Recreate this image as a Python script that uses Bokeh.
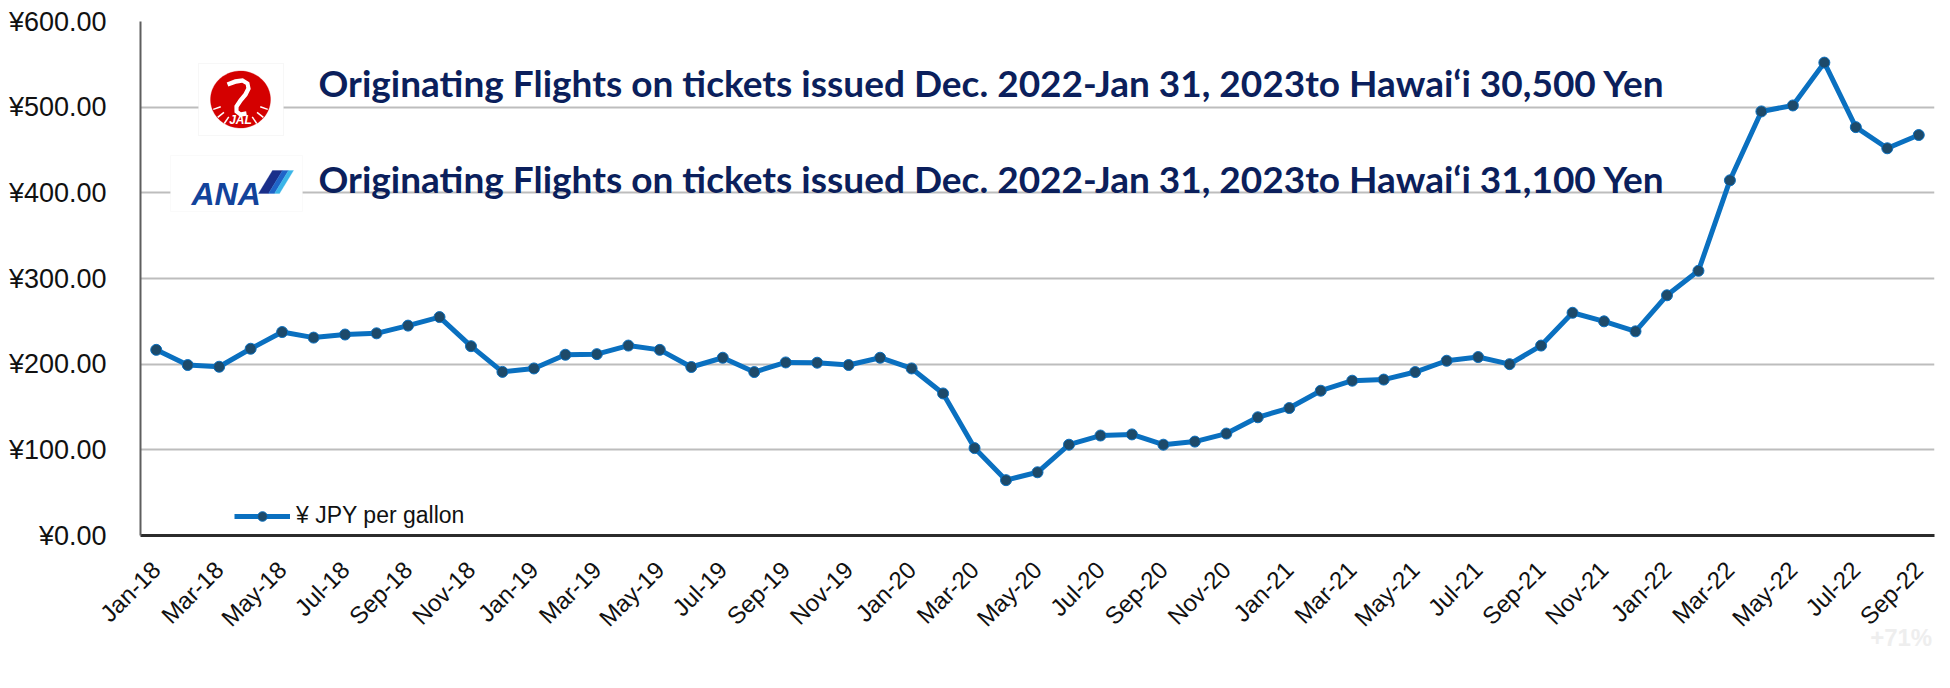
import math
import numpy as np
from bokeh.plotting import figure
from bokeh.models import (Range1d, FixedTicker, PrintfTickFormatter, Label,
                          BoxAnnotation, PolyAnnotation, Legend, LegendItem,
                          ColumnDataSource)
from bokeh.embed import file_html
from bokeh.resources import INLINE

# ---------------- data ----------------
months = [
    "Jan-18", "Feb-18", "Mar-18", "Apr-18", "May-18", "Jun-18", "Jul-18", "Aug-18", "Sep-18", "Oct-18", "Nov-18", "Dec-18",
    "Jan-19", "Feb-19", "Mar-19", "Apr-19", "May-19", "Jun-19", "Jul-19", "Aug-19", "Sep-19", "Oct-19", "Nov-19", "Dec-19",
    "Jan-20", "Feb-20", "Mar-20", "Apr-20", "May-20", "Jun-20", "Jul-20", "Aug-20", "Sep-20", "Oct-20", "Nov-20", "Dec-20",
    "Jan-21", "Feb-21", "Mar-21", "Apr-21", "May-21", "Jun-21", "Jul-21", "Aug-21", "Sep-21", "Oct-21", "Nov-21", "Dec-21",
    "Jan-22", "Feb-22", "Mar-22", "Apr-22", "May-22", "Jun-22", "Jul-22", "Aug-22", "Sep-22",
]
jpy_per_gallon = [
    216.7, 199.0, 197.0, 218.0, 237.5, 231.0, 234.6, 236.0, 245.0, 255.0, 221.0, 191.0,
    195.0, 211.0, 211.7, 221.7, 216.7, 196.7, 207.5, 190.8, 202.0, 201.7, 199.0, 207.5,
    195.0, 165.8, 102.0, 64.6, 73.8, 106.0, 116.7, 118.0, 106.0, 109.6, 119.0, 138.0,
    148.8, 169.0, 180.7, 182.0, 190.8, 204.0, 208.3, 200.0, 221.7, 260.0, 250.0, 238.3,
    280.4, 309.0, 414.6, 495.0, 502.0, 552.0, 476.7, 452.0, 467.5,
]
series_name = "¥ JPY per gallon"
y_ticks = [0, 100, 200, 300, 400, 500, 600]
jal_text = "Originating Flights on tickets issued Dec. 2022-Jan 31, 2023to Hawai\u2018i 30,500 Yen"
ana_text = "Originating Flights on tickets issued Dec. 2022-Jan 31, 2023to Hawai\u2018i 31,100 Yen"
corner_note = "+71%"

idx = list(range(len(months)))
tick_idx = idx[::2]
src = ColumnDataSource(dict(x=idx, price=jpy_per_gallon, month=months))

# ---------------- figure ----------------
p = figure(frame_width=1794, frame_height=514, output_backend="svg", toolbar_location=None,
           x_range=Range1d(-0.5, len(months) - 0.5), y_range=Range1d(0, 600),
           min_border_left=140, min_border_right=8, min_border_top=21,
           min_border_bottom=149, background_fill_color="white",
           border_fill_color="white")
p.outline_line_color = None

AX_FONT = "Liberation Sans"

# x axis
p.xaxis.ticker = FixedTicker(ticks=tick_idx)
p.xaxis.major_label_overrides = {i: months[i] for i in tick_idx}
p.xaxis.major_label_orientation = math.pi / 4
p.xaxis.major_label_text_font = AX_FONT
p.xaxis.major_label_text_font_size = "24px"
p.xaxis.major_label_text_color = "#111111"
p.xaxis.major_label_standoff = 24
p.xaxis.major_tick_line_color = None
p.xaxis.minor_tick_line_color = None
p.xaxis.axis_line_color = "#2b2b2b"
p.xaxis.axis_line_width = 3
# faint corner note below the labels (as in the screenshot)
p.xaxis.axis_label = corner_note + "\u00a0" * 10
p.xaxis.axis_label_align = "end"
p.xaxis.axis_label_standoff = -20
p.xaxis.axis_label_text_font = AX_FONT
p.xaxis.axis_label_text_font_size = "24px"
p.xaxis.axis_label_text_font_style = "bold"
p.xaxis.axis_label_text_color = "#eeeeee"

# y axis
p.yaxis.ticker = FixedTicker(ticks=y_ticks)
p.yaxis.formatter = PrintfTickFormatter(format="¥%.2f")
p.yaxis.major_label_text_font = AX_FONT
p.yaxis.major_label_text_font_size = "27px"
p.yaxis.major_label_text_color = "#111111"
p.yaxis.major_label_standoff = 28
p.yaxis.major_tick_line_color = None
p.yaxis.minor_tick_line_color = None
p.yaxis.axis_line_color = "#5e5e5e"
p.yaxis.axis_line_width = 2

p.xgrid.grid_line_color = None
p.ygrid.ticker = FixedTicker(ticks=y_ticks[1:])
p.ygrid.grid_line_color = "#bdbdbd"
p.ygrid.grid_line_width = 2

# ---------------- series ----------------
ln = p.line("x", "price", source=src, line_color="#0a70c0", line_width=5)
mk = p.scatter("x", "price", source=src, size=11, fill_color="#1d4a6a",
               line_color="#0a70c0", line_width=1)

legend = Legend(items=[LegendItem(label=series_name, renderers=[ln, mk])],
                location=(94, 6), orientation="horizontal",
                label_text_font=AX_FONT, label_text_font_size="23px",
                label_text_color="#111111", glyph_width=56, glyph_height=24,
                label_height=24, padding=0, margin=0, spacing=0, label_standoff=6,
                border_line_color=None, background_fill_alpha=0)
p.add_layout(legend, "center")

# ---------------- logos & annotations ----------------
def thick_path(pts, w):
    pts = np.asarray(pts, dtype=float)
    d = np.gradient(pts, axis=0)
    n = np.stack([-d[:, 1], d[:, 0]], axis=1)
    n /= np.linalg.norm(n, axis=1, keepdims=True)
    left = pts + n * w / 2
    right = pts - n * w / 2
    poly = np.vstack([left, right[::-1]])
    return list(poly[:, 0]), list(poly[:, 1])

# JAL box + red crane circle
p.add_layout(BoxAnnotation(left=58, right=143, top=472, bottom=400,
                           left_units="screen", right_units="screen",
                           top_units="screen", bottom_units="screen",
                           fill_color="white", fill_alpha=1,
                           line_color="#e4e4e4", line_width=1))
th = np.linspace(0, 2 * np.pi, 90)
cx, cy, r = 100, 436, 30
p.add_layout(PolyAnnotation(xs=list(cx + r * np.cos(th)), ys=list(cy + r * 0.95 * np.sin(th)),
                            xs_units="screen", ys_units="screen",
                            fill_color="#d40000", fill_alpha=1, line_color="#d40000"))
crane = [(-13, 15), (-5, 18), (2, 19), (7, 16), (8, 11), (5, 5), (0, -1),
         (-4, -7), (-4, -12), (0, -15), (6, -14)]
cxs, cys = thick_path([(cx + a, cy + b) for a, b in crane], 4.5)
p.add_layout(PolyAnnotation(xs=cxs, ys=cys, xs_units="screen", ys_units="screen",
                            fill_color="white", fill_alpha=1, line_color=None))
for side in (-1, 1):
    for k in range(3):
        ang = np.radians(200 + k * 18) if side < 0 else np.radians(-20 - k * 18)
        fx = [cx + (r - 9) * np.cos(ang), cx + (r - 1) * np.cos(ang)]
        fy = [cy + (r - 9) * np.sin(ang), cy + (r - 1) * np.sin(ang)]
        fxs, fys = thick_path(list(zip(fx, fy)), 1.5)
        p.add_layout(PolyAnnotation(xs=fxs, ys=fys, xs_units="screen", ys_units="screen",
                                    fill_color="white", fill_alpha=1, line_color=None))
p.add_layout(Label(x=cx, y=cy - 20, x_units="screen", y_units="screen", text="JAL",
                   text_font=AX_FONT, text_font_size="12px", text_color="white",
                   text_align="center", text_baseline="middle", text_font_style="bold italic"))

# ANA box
p.add_layout(BoxAnnotation(left=30, right=162, top=380, bottom=324,
                           left_units="screen", right_units="screen",
                           top_units="screen", bottom_units="screen",
                           fill_color="white", fill_alpha=1,
                           line_color="#f0f0f0", line_width=1))
p.add_layout(Label(x=51, y=342, x_units="screen", y_units="screen", text="ANA",
                   text_font=AX_FONT, text_font_size="32px", text_color="#13439b",
                   text_align="left", text_baseline="alphabetic",
                   text_font_style="bold italic"))
for (x0, x1), col in [((118, 128), "#1a2f8a"), ((128, 134), "#1f64c8"), ((134, 139), "#3ab5e8")]:
    p.add_layout(PolyAnnotation(xs=[x0, x1, x1 + 14, x0 + 14], ys=[342, 342, 365, 365],
                                xs_units="screen", ys_units="screen",
                                fill_color=col, fill_alpha=1, line_color=col))

for txt, yb in [(jal_text, 453), (ana_text, 357)]:
    p.add_layout(Label(x=178, y=yb, x_units="screen", y_units="screen", text=txt,
                       text_font="Lato", text_font_size="37px", text_font_style="bold",
                       text_color="#0b1f5c", text_align="left",
                       text_baseline="alphabetic"))

open("out.html", "w").write(file_html(p, INLINE))
